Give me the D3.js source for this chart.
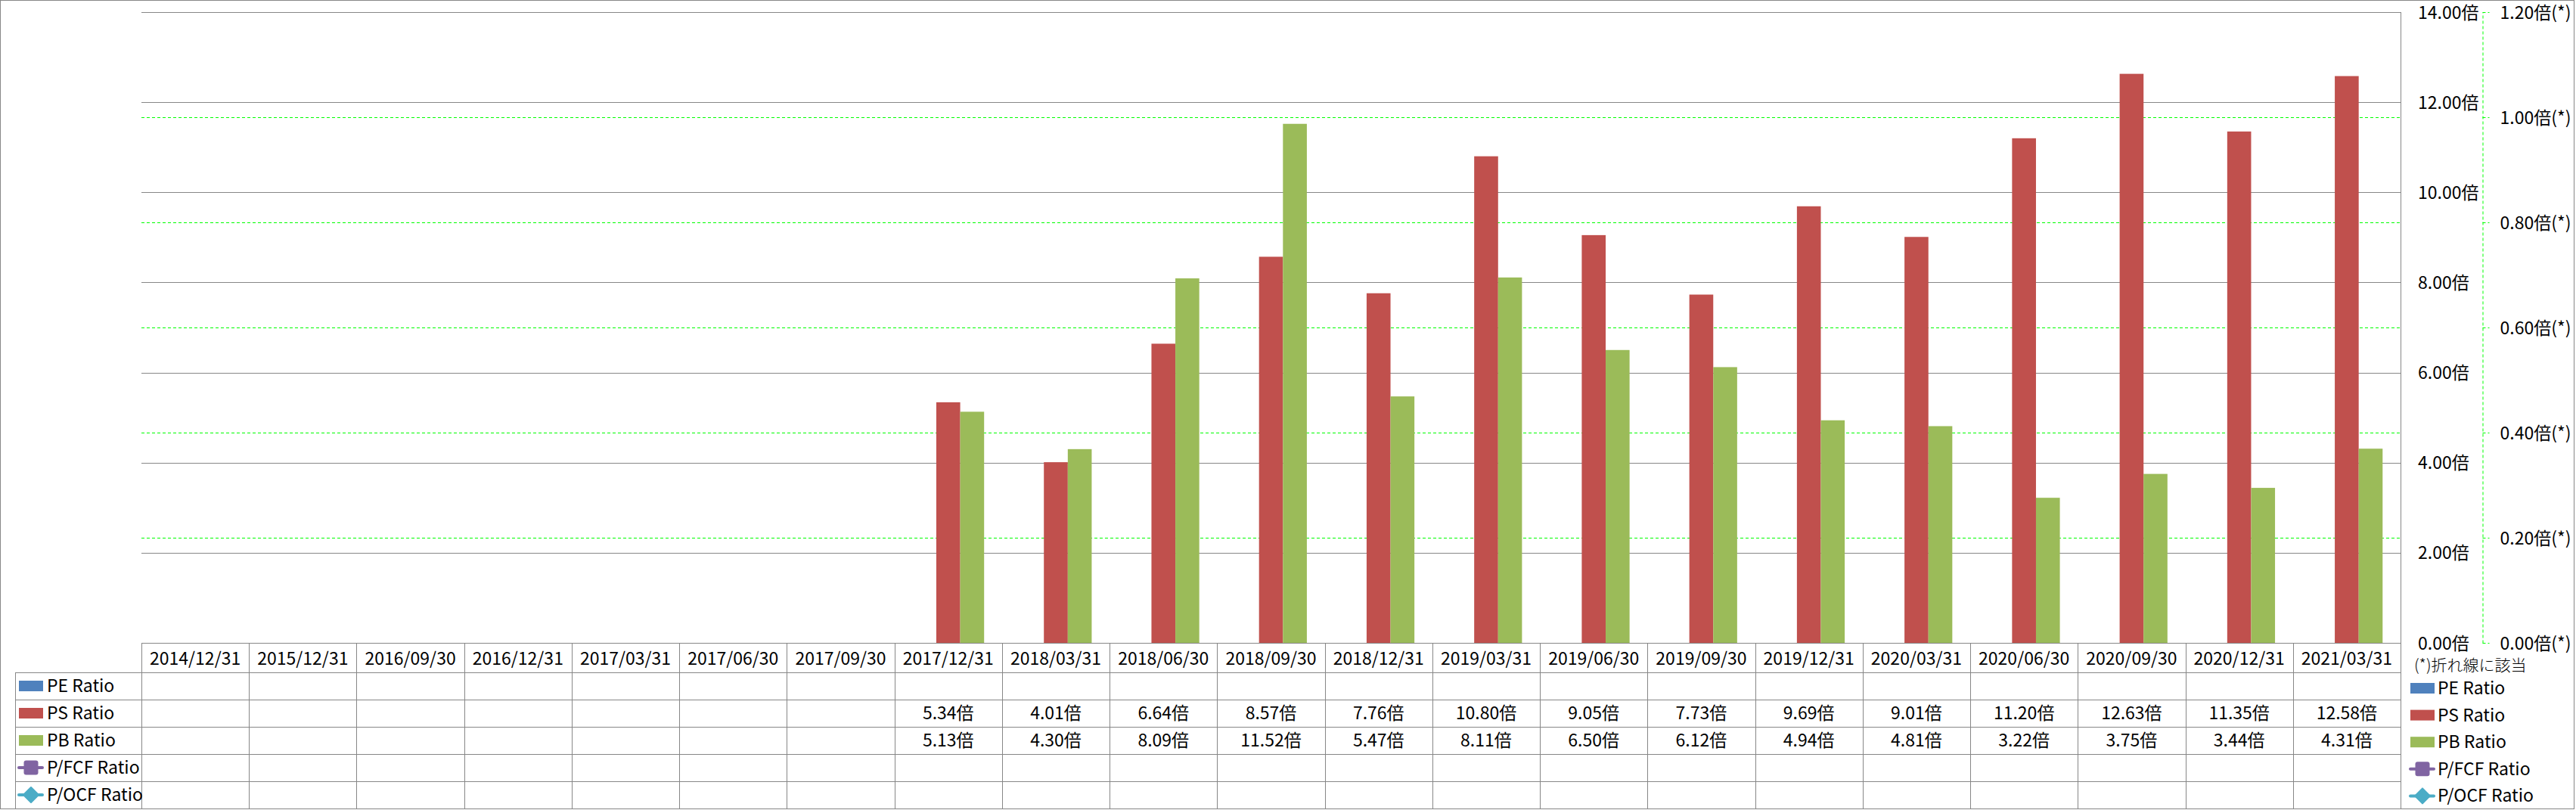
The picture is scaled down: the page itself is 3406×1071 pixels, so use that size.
<!DOCTYPE html>
<html>
<head>
<meta charset="utf-8">
<script src="https://cdn.jsdelivr.net/npm/d3@7"></script>
<style>
  html, body { margin: 0; padding: 0; background: #fff; }
  svg { display: block; }
  text { font-family: "Noto Sans CJK JP", "Noto Sans", sans-serif; fill: #000; }
</style>
</head>
<body>
<svg id="chart" width="3406" height="1071"></svg>
<script>
// ---- data ----
const categories = ["2014/12/31","2015/12/31","2016/09/30","2016/12/31","2017/03/31","2017/06/30","2017/09/30","2017/12/31","2018/03/31","2018/06/30","2018/09/30","2018/12/31","2019/03/31","2019/06/30","2019/09/30","2019/12/31","2020/03/31","2020/06/30","2020/09/30","2020/12/31","2021/03/31"];
const peRatio   = [null,null,null,null,null,null,null,null,null,null,null,null,null,null,null,null,null,null,null,null,null];
const psRatio   = [null,null,null,null,null,null,null,5.34,4.01,6.64,8.57,7.76,10.80,9.05,7.73,9.69,9.01,11.20,12.63,11.35,12.58];
const pbRatio   = [null,null,null,null,null,null,null,5.13,4.30,8.09,11.52,5.47,8.11,6.50,6.12,4.94,4.81,3.22,3.75,3.44,4.31];
const pfcfRatio = [null,null,null,null,null,null,null,null,null,null,null,null,null,null,null,null,null,null,null,null,null];
const pocfRatio = [null,null,null,null,null,null,null,null,null,null,null,null,null,null,null,null,null,null,null,null,null];
const leftTicks  = [0,2,4,6,8,10,12,14];
const rightTicks = [0,0.2,0.4,0.6,0.8,1.0,1.2];
const seriesNames = ["PE Ratio","PS Ratio","PB Ratio","P/FCF Ratio","P/OCF Ratio"];
const barSeries = ["PE Ratio","PS Ratio","PB Ratio"];
const seriesValues = {"PE Ratio": peRatio, "PS Ratio": psRatio, "PB Ratio": pbRatio, "P/FCF Ratio": pfcfRatio, "P/OCF Ratio": pocfRatio};
const seriesColors = {"PE Ratio":"#4F81BD","PS Ratio":"#C0504D","PB Ratio":"#9BBB59","P/FCF Ratio":"#8064A2","P/OCF Ratio":"#4BACC6"};
const seriesType = {"PE Ratio":"bar","PS Ratio":"bar","PB Ratio":"bar","P/FCF Ratio":"square","P/OCF Ratio":"diamond"};
const noteText = "(*)折れ線に該当";

// ---- layout ----
const svg = d3.select("#chart");
const plotL = 187, plotR = 3174, plotT = 16, plotB = 850;
const legendColL = 20;
const headerH = 39, rowH = 36;
const fontSize = 23;
const gridColor = "#878787";
const green = "#00FF00";

const x = d3.scaleBand().domain(categories).range([plotL, plotR]).paddingInner(0).paddingOuter(0);
const bw = x.bandwidth();
const x1 = d3.scaleBand().domain(barSeries).range([bw / 6, bw * 5 / 6]).padding(0);
const y = d3.scaleLinear().domain([0, 14]).range([plotB, plotT]);
const y2 = d3.scaleLinear().domain([0, 1.2]).range([plotB, plotT]);

// outer border
svg.append("rect").attr("x", 0.5).attr("y", 0.5).attr("width", 3403).attr("height", 1069)
  .attr("fill", "none").attr("stroke", gridColor).attr("stroke-width", 1);

// secondary gridlines (green dashed)
svg.append("g").selectAll("line").data(rightTicks.filter(d => d > 0 && d < 1.2)).join("line")
  .attr("x1", plotL).attr("x2", plotR)
  .attr("y1", d => Math.round(y2(d)) + 0.5).attr("y2", d => Math.round(y2(d)) + 0.5)
  .attr("stroke", green).attr("stroke-width", 1).attr("stroke-dasharray", "4,3");

// primary gridlines (gray)
svg.append("g").selectAll("line").data(leftTicks.filter(d => d > 0)).join("line")
  .attr("x1", plotL).attr("x2", plotR)
  .attr("y1", d => Math.round(y(d)) + 0.5).attr("y2", d => Math.round(y(d)) + 0.5)
  .attr("stroke", gridColor).attr("stroke-width", 1);

// bars
const barData = [];
barSeries.forEach(s => seriesValues[s].forEach((v, i) => { if (v != null) barData.push({s, cat: categories[i], v}); }));
svg.append("g").selectAll("rect").data(barData).join("rect")
  .attr("x", d => x(d.cat) + x1(d.s))
  .attr("width", x1.bandwidth())
  .attr("y", d => y(d.v))
  .attr("height", d => y(0) - y(d.v))
  .attr("fill", d => seriesColors[d.s]);

// plot right border
svg.append("line").attr("x1", plotR + 0.5).attr("x2", plotR + 0.5).attr("y1", plotT).attr("y2", 1069)
  .attr("stroke", gridColor);

// primary axis (labels on right)
const axL = svg.append("g").attr("transform", `translate(${plotR},0)`)
  .call(d3.axisRight(y).tickValues(leftTicks).tickSize(0).tickPadding(23)
    .tickFormat(d => d.toFixed(2) + "倍"));
axL.select(".domain").remove();
axL.selectAll("text").attr("font-size", fontSize).attr("font-family", null).attr("dy", "0.35em");

// secondary axis
const axR = svg.append("g").attr("transform", `translate(3282.5,0)`)
  .call(d3.axisRight(y2).tickValues(rightTicks).tickSize(9).tickPadding(14).tickSizeOuter(0)
    .tickFormat(d => d.toFixed(2) + "倍(*)"));
axR.select(".domain").attr("stroke", green).attr("stroke-dasharray", "4,3");
axR.selectAll(".tick line").attr("stroke", green).attr("stroke-dasharray", "4,3");
axR.selectAll("text").attr("font-size", fontSize).attr("font-family", null).attr("dy", "0.35em");

// ---- data table ----
const table = svg.append("g");
// horizontal lines
table.append("line").attr("x1", plotL).attr("x2", plotR).attr("y1", plotB + 0.5).attr("y2", plotB + 0.5).attr("stroke", gridColor);
seriesNames.forEach((s, i) => {
  const yy = plotB + headerH + i * rowH + 0.5;
  table.append("line").attr("x1", legendColL).attr("x2", plotR).attr("y1", yy).attr("y2", yy).attr("stroke", gridColor);
});
// vertical lines
const bounds = categories.map(c => x(c)).concat([plotR]);
table.selectAll("line.v").data(bounds).join("line").attr("class", "v")
  .attr("x1", d => Math.round(d) + 0.5).attr("x2", d => Math.round(d) + 0.5)
  .attr("y1", plotB).attr("y2", 1069).attr("stroke", gridColor);
table.append("line").attr("x1", legendColL + 0.5).attr("x2", legendColL + 0.5)
  .attr("y1", plotB + headerH).attr("y2", 1069).attr("stroke", gridColor);

// header texts
table.selectAll("text.h").data(categories).join("text").attr("class", "h")
  .attr("x", d => x(d) + bw / 2).attr("y", plotB + headerH / 2 + 1)
  .attr("text-anchor", "middle").attr("dy", "0.35em").attr("font-size", fontSize)
  .text(d => d);

// values
seriesNames.forEach((s, si) => {
  const cy = plotB + headerH + si * rowH + rowH / 2;
  seriesValues[s].forEach((v, i) => {
    if (v == null) return;
    table.append("text").attr("x", x(categories[i]) + bw / 2).attr("y", cy)
      .attr("text-anchor", "middle").attr("dy", "0.35em").attr("font-size", fontSize)
      .text(v.toFixed(2) + "倍");
  });
});

// legend symbol helper
function symbol(g, s, sx, cy) {
  const col = seriesColors[s];
  if (seriesType[s] === "bar") {
    g.append("rect").attr("x", sx).attr("y", cy - 7).attr("width", 32).attr("height", 14).attr("fill", col);
  } else {
    g.append("line").attr("x1", sx).attr("x2", sx + 31).attr("y1", cy).attr("y2", cy)
      .attr("stroke", col).attr("stroke-width", 4).attr("stroke-linecap", "round");
    const mx = sx + 16;
    if (seriesType[s] === "square") {
      g.append("rect").attr("x", mx - 9.5).attr("y", cy - 9.5).attr("width", 19).attr("height", 19)
        .attr("rx", 3).attr("fill", col);
    } else {
      g.append("path").attr("d", `M${mx},${cy - 10}L${mx + 10},${cy}L${mx},${cy + 10}L${mx - 10},${cy}Z`)
        .attr("fill", col).attr("stroke", col).attr("stroke-width", 2).attr("stroke-linejoin", "round");
    }
  }
}

// table legend column
seriesNames.forEach((s, si) => {
  const cy = plotB + headerH + si * rowH + rowH / 2;
  symbol(table, s, 25, cy);
  table.append("text").attr("x", 62).attr("y", cy).attr("dy", "0.35em").attr("font-size", fontSize).text(s);
});

// right legend
const rl = svg.append("g");
rl.append("text").attr("x", 3192).attr("y", 880).attr("dy", "0.35em").attr("font-size", 21)
  .attr("font-weight", 300).text(noteText);
seriesNames.forEach((s, si) => {
  const cy = 910 + si * 35.6;
  symbol(rl, s, 3187, cy);
  rl.append("text").attr("x", 3223).attr("y", cy).attr("dy", "0.35em").attr("font-size", fontSize).text(s);
});
</script>
</body>
</html>
